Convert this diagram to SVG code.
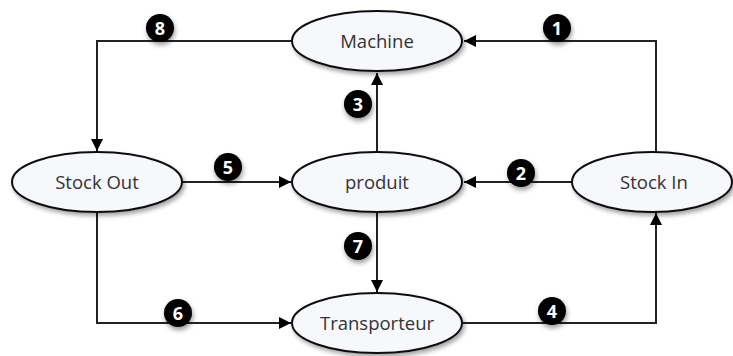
<svg xmlns="http://www.w3.org/2000/svg" width="733" height="356" viewBox="0 0 733 356">
<style>
.node ellipse{fill:#f6f8fc;stroke:#111;stroke-width:2;filter:url(#sh)}
.node text{font-family:"Open Sans","Liberation Sans",sans-serif;font-size:18.5px;fill:#333;text-anchor:middle}
.conn path{fill:none;stroke:#222;stroke-width:2;marker-end:url(#ah)}
.badge circle{fill:#000;filter:url(#sh2)}
.badge text{font-family:"Open Sans","Liberation Sans",sans-serif;font-size:18px;font-weight:bold;fill:#fff;text-anchor:middle}
</style>
<defs>
<filter id="sh" x="-20%" y="-20%" width="150%" height="160%">
<feDropShadow dx="2" dy="3" stdDeviation="2" flood-color="#000" flood-opacity="0.35"/>
</filter>
<filter id="sh2" x="-50%" y="-50%" width="200%" height="200%">
<feDropShadow dx="1" dy="3" stdDeviation="2.5" flood-color="#000" flood-opacity="0.4"/>
</filter>
<marker id="ah" viewBox="0 0 10 10" refX="10" refY="5" markerWidth="6.5" markerHeight="6" markerUnits="strokeWidth" orient="auto">
<path d="M0,0 L10,5 L0,10 z" fill="#000"/>
</marker>
</defs>
<rect width="733" height="356" fill="#fff"/>
<g id="connectors" class="conn">
<path d="M656,152 V41 H464"/>
<path d="M292,41 H97 V151"/>
<path d="M377,152 V73"/>
<path d="M183,182 H291"/>
<path d="M572,182 H464"/>
<path d="M377,212 V292"/>
<path d="M97,212 V323 H291"/>
<path d="M463,323 H656 V213"/>
</g>
<g id="badges" class="badge">
<g id="b1"><circle cx="557" cy="28" r="14"/><text x="557" y="34.5">1</text></g>
<g id="b2"><circle cx="521" cy="173" r="14"/><text x="521" y="179.5">2</text></g>
<g id="b3"><circle cx="358" cy="104" r="14"/><text x="358" y="110.5">3</text></g>
<g id="b4"><circle cx="552" cy="311" r="14"/><text x="552" y="317.5">4</text></g>
<g id="b5"><circle cx="228" cy="167" r="14"/><text x="228" y="173.5">5</text></g>
<g id="b6"><circle cx="178" cy="313" r="14"/><text x="178" y="319.5">6</text></g>
<g id="b7"><circle cx="358" cy="246" r="14"/><text x="358" y="252.5">7</text></g>
<g id="b8"><circle cx="160" cy="28" r="14"/><text x="160" y="34.5">8</text></g>
</g>
<g id="machine" class="node"><ellipse cx="377" cy="41" rx="85" ry="30"/><text x="377" y="47.5">Machine</text></g>
<g id="produit" class="node"><ellipse cx="377" cy="182" rx="85" ry="30"/><text x="377" y="188.5">produit</text></g>
<g id="stockout" class="node"><ellipse cx="97" cy="182" rx="85" ry="30"/><text x="97" y="188.5">Stock Out</text></g>
<g id="stockin" class="node"><ellipse cx="652" cy="182" rx="80" ry="30"/><text x="654" y="188.5">Stock In</text></g>
<g id="transporteur" class="node"><ellipse cx="377" cy="323" rx="85" ry="30"/><text x="377" y="329.5">Transporteur</text></g>
</svg>
